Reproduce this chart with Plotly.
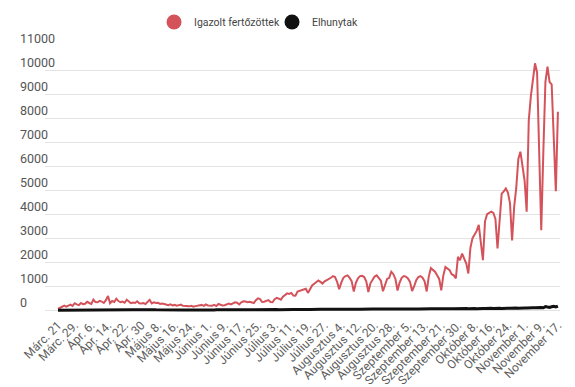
import plotly.graph_objects as go

# ---- data ----
series_names = ["Igazolt fertőzöttek", "Elhunytak"]

tick_labels = [
    "Márc. 21", "Márc. 29.", "Ápr. 6.", "Ápr. 14.", "Ápr. 22.", "Ápr. 30", "Május 8.",
    "Május 16.", "Május 24.", "Június 1.", "Június 9.", "Június 17.", "Június 25.",
    "Július 3.", "Július 11.", "Július 19.", "Július 27.", "Augusztus 4.", "Augusztus 12.",
    "Augusztus 20.", "Augusztus 28.", "Szeptember 5.", "Szeptember 13.", "Szeptember 21.",
    "Szeptember 30.", "Október 8.", "Október 16.", "Október 24.", "November 1.",
    "November 9.", "November 17.",
]

confirmed = [
    50, 90, 140, 190, 150, 190, 230, 180, 290, 240,
    210, 300, 250, 270, 350, 300, 260, 440, 340, 330,
    390, 360, 300, 420, 590, 290, 380, 340, 480, 380,
    330, 360, 310, 440, 360, 290, 320, 300, 370, 290,
    280, 300, 260, 350, 430, 280, 330, 300, 310, 260,
    280, 260, 230, 210, 240, 200, 220, 190, 210, 230,
    180, 170, 190, 160, 180, 150, 170, 190, 190, 220,
    180, 240, 200, 180, 190, 220, 170, 260, 230, 200,
    210, 250, 280, 240, 300, 330, 310, 240, 330, 370,
    360, 330, 350, 340, 300, 420, 490, 460, 340, 350,
    380, 420, 340, 330, 460, 510, 480, 440, 560, 640,
    700, 680, 720, 610, 600, 780, 800, 830, 860, 890,
    720, 880, 1030, 1100, 1170, 1240, 1180, 1110, 1200, 1240,
    1280, 1350, 1420, 1380, 1180, 870, 1150, 1350, 1420, 1450,
    1350, 1200, 780, 1140, 1330, 1420, 1430, 1380, 1200, 760,
    1120, 1280, 1400, 1450, 1350, 1230, 790, 1080, 1300, 1350,
    1600, 1500, 1300, 820, 1150, 1350, 1420, 1400, 1320, 1180,
    800, 1000, 1250, 1380, 1420, 1350, 1200, 780, 1400, 1750,
    1680, 1600, 1450, 1300, 830, 1450, 1800, 1750, 1670, 1500,
    1450, 1320, 2220, 2080, 2360, 2150, 1940, 1530, 2600, 3000,
    3150, 3300, 3550, 2900, 2080, 3700, 4000, 4050, 4100, 4050,
    3800, 2570, 3900, 4850, 4950, 5070, 4900, 4450, 2900, 4300,
    5100, 6300, 6600, 6000, 5400, 4100, 7900, 8900, 9600, 10280,
    9900, 6600, 3330, 6600, 9510, 10140, 9500, 9400, 7200, 4950,
    8260,
]

deaths = [
    2, 3, 5, 6, 4, 6, 9, 6, 8, 10,
    12, 14, 18, 16, 20, 15, 22, 24, 20, 18,
    26, 30, 25, 22, 28, 32, 30, 24, 27, 22,
    25, 30, 28, 20, 23, 26, 22, 18, 21, 24,
    20, 19, 17, 22, 18, 16, 19, 15, 17, 14,
    16, 12, 15, 13, 11, 14, 12, 10, 13, 9,
    11, 12, 10, 8, 9, 12, 10, 14, 9, 11,
    13, 10, 15, 12, 9, 11, 14, 16, 12, 10,
    15, 13, 17, 14, 12, 16, 18, 15, 20, 17,
    14, 19, 22, 18, 21, 16, 23, 25, 20, 22,
    19, 24, 26, 21, 28, 25, 22, 27, 30, 26,
    24, 29, 32, 28, 26, 31, 34, 30, 28, 35,
    33, 29, 36, 38, 34, 31, 37, 40, 35, 33,
    39, 42, 38, 35, 41, 44, 40, 37, 43, 46,
    42, 39, 45, 48, 44, 41, 47, 50, 46, 43,
    49, 52, 47, 44, 50, 53, 48, 45, 51, 55,
    50, 47, 53, 56, 52, 48, 54, 57, 53, 50,
    55, 58, 54, 51, 57, 60, 56, 52, 58, 62,
    57, 54, 60, 64, 59, 56, 63, 67, 61, 58,
    65, 70, 64, 60, 68, 72, 66, 62, 71, 76,
    69, 65, 74, 80, 73, 68, 78, 84, 76, 72,
    82, 88, 80, 75, 86, 93, 85, 80, 92, 100,
    90, 86, 98, 106, 96, 92, 105, 114, 103, 98,
    112, 122, 110, 104, 150, 130, 118, 140, 160, 135,
    170,
]

y_ticks = [0, 1000, 2000, 3000, 4000, 5000, 6000, 7000, 8000, 9000, 10000, 11000]

# ---- styling ----
RED = "#d4535b"
BLACK = "#111111"
FONT = "Roboto"

x_idx = list(range(len(confirmed)))
label_step = 8
tick_pos = [i * label_step for i in range(len(tick_labels))]

fig = go.Figure()
fig.add_trace(go.Scatter(x=x_idx, y=confirmed, mode="lines", name=series_names[0],
                         line=dict(color=RED, width=2), showlegend=False, hoverinfo="skip"))
fig.add_trace(go.Scatter(x=x_idx, y=deaths, mode="lines", name=series_names[1],
                         line=dict(color=BLACK, width=3), showlegend=False, hoverinfo="skip"))
# legend entries shown as circles (each in its own legend box for precise placement)
for name, col, lg in zip(series_names, [RED, BLACK], ["legend", "legend2"]):
    fig.add_trace(go.Scatter(x=[None], y=[None], mode="markers", name=name, legend=lg,
                             marker=dict(color=col, size=15), showlegend=True))

annotations = [
    dict(x=0, xref="paper", xshift=-27, xanchor="left", y=v, yref="y", yshift=8,
         yanchor="middle", text=str(v), showarrow=False,
         font=dict(family=FONT, size=12.5, color="#555555"))
    for v in y_ticks
]

legend_common = dict(orientation="h", xanchor="left", y=1.089, yanchor="middle",
                     font=dict(family=FONT, size=10.5, color="#444444"),
                     bgcolor="rgba(0,0,0,0)", itemclick=False, itemdoubleclick=False)

fig.update_layout(
    width=575, height=387,
    margin=dict(l=45, r=15, t=46, b=72, autoexpand=False),
    plot_bgcolor="white", paper_bgcolor="white",
    font=dict(family=FONT, color="#555555"),
    hovermode=False,
    legend=dict(x=0.2117, **legend_common),
    legend2=dict(x=0.4408, **legend_common),
    annotations=annotations,
    xaxis=dict(range=[-6.24, 241], tickmode="array", tickvals=tick_pos, ticktext=tick_labels,
               tickangle=-45, tickfont=dict(family=FONT, size=12, color="#606060"),
               showgrid=False, zeroline=False, showline=False, ticks="", automargin=False),
    yaxis=dict(range=[-200, 11000], tickmode="array", tickvals=y_ticks, showticklabels=False,
               showgrid=True, gridcolor="#e3e3e3", gridwidth=1, zeroline=False, showline=False,
               ticks="", automargin=False),
)

fig.write_html("out.html", config={"displayModeBar": False},
               post_script="document.body.style.margin='0';")
